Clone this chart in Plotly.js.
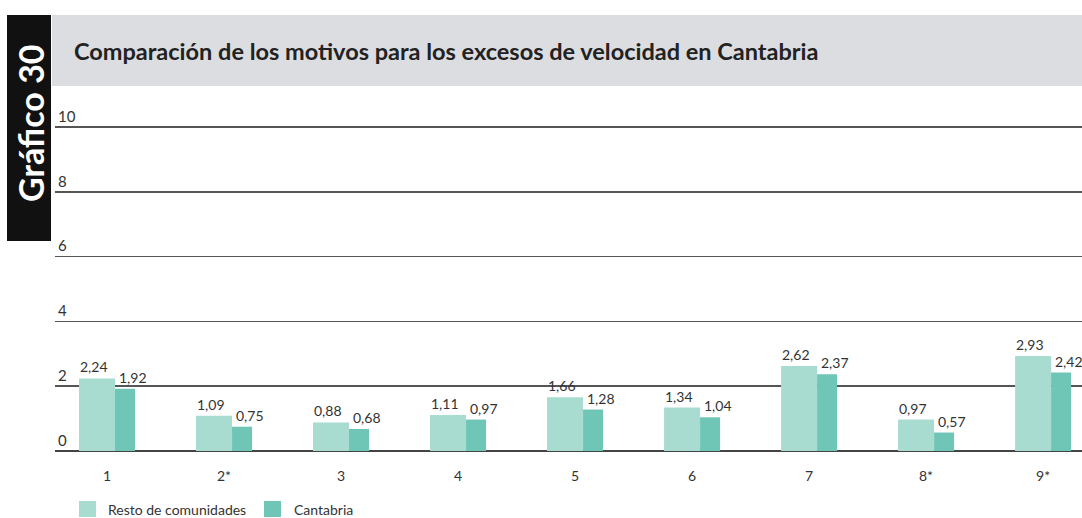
<!DOCTYPE html>
<html>
<head>
<meta charset="utf-8">
<script src="https://cdn.plot.ly/plotly-3.0.1.min.js"></script>
<style>
html,body{margin:0;padding:0;background:#fff;}
#chart{width:1082px;height:518px;}
</style>
</head>
<body>
<div id="chart"></div>
<script>
var categories = ["1", "2*", "3", "4", "5", "6", "7", "8*", "9*"];
var restoValues = [2.24, 1.09, 0.88, 1.11, 1.66, 1.34, 2.62, 0.97, 2.93];
var cantabriaValues = [1.92, 0.75, 0.68, 0.97, 1.28, 1.04, 2.37, 0.57, 2.42];
var seriesNames = ["Resto de comunidades", "Cantabria"];
var yTickVals = [0, 2, 4, 6, 8, 10];
var titleText = "Comparación de los motivos para los excesos de velocidad en Cantabria";
var badgeText = "Gráfico 30";

var colLight = "#a9dcd1";
var colDark = "#6fc5b6";
var FONT = 'Lato, "Open Sans", sans-serif';

// geometry helpers (pixels -> paper)
var L = 55, R = 1082, T = 100, B = 451;
var PXU = 32.4; // pixels per y unit
var yMax = (B - T) / PXU;
function px(x){ return (x - L) / (R - L); }
function py(y){ return (B - y) / (B - T); }

function fmt(v){ return v.toFixed(2).replace('.', ','); }

var traces = [
  {type:'bar', x:categories, y:restoValues, name:seriesNames[0], marker:{color:colLight},
   width:0.308, offset:-0.239, showlegend:false, hoverinfo:'y'},
  {type:'bar', x:categories, y:cantabriaValues, name:seriesNames[1], marker:{color:colDark},
   width:0.171, offset:0.069, showlegend:false, hoverinfo:'y'}
];

var annotations = [];
categories.forEach(function(c, i){
  annotations.push({x:i - 0.239, y:restoValues[i], xref:'x', yref:'y', text:fmt(restoValues[i]),
    showarrow:false, xanchor:'left', yanchor:'bottom', xshift:-1, yshift:1,
    font:{family:FONT, size:14, color:'#333'}});
  annotations.push({x:i + 0.094, y:cantabriaValues[i], xref:'x', yref:'y', text:fmt(cantabriaValues[i]),
    showarrow:false, xanchor:'left', yanchor:'bottom', xshift:-1, yshift:1,
    font:{family:FONT, size:14, color:'#333'}});
});

// title
annotations.push({x:px(72), y:py(51), xref:'paper', yref:'paper', text:'<b>' + titleText + '</b>',
  showarrow:false, xanchor:'left', yanchor:'middle', font:{family:FONT, size:23.5, color:'#222'}});
// badge
annotations.push({x:px(30), y:py(123), xref:'paper', yref:'paper', text:'<b>' + badgeText + '</b>',
  showarrow:false, xanchor:'center', yanchor:'middle', textangle:-90, font:{family:FONT, size:34, color:'#fff'}});
// legend texts
annotations.push({x:px(106), y:py(509), xref:'paper', yref:'paper', text:seriesNames[0],
  showarrow:false, xanchor:'left', yanchor:'middle', font:{family:FONT, size:14, color:'#333'}});
annotations.push({x:px(292), y:py(509), xref:'paper', yref:'paper', text:seriesNames[1],
  showarrow:false, xanchor:'left', yanchor:'middle', font:{family:FONT, size:14, color:'#333'}});

var shapes = [
  {type:'rect', xref:'paper', yref:'paper', x0:px(52), x1:px(1082), y0:py(15), y1:py(86),
   fillcolor:'#dcdde0', line:{width:0}, layer:'below'},
  {type:'rect', xref:'paper', yref:'paper', x0:px(7), x1:px(51), y0:py(15), y1:py(241),
   fillcolor:'#111', line:{width:0}, layer:'below'},
  {type:'rect', xref:'paper', yref:'paper', x0:px(79), x1:px(96), y0:py(501), y1:py(517),
   fillcolor:colLight, line:{width:0}},
  {type:'rect', xref:'paper', yref:'paper', x0:px(264), x1:px(281), y0:py(501), y1:py(517),
   fillcolor:colDark, line:{width:0}}
];

var layout = {
  width:1082, height:518,
  margin:{l:L, r:1082 - R, t:T, b:518 - B, pad:0},
  paper_bgcolor:'#fff', plot_bgcolor:'rgba(0,0,0,0)',
  barmode:'overlay',
  font:{family:FONT, size:14, color:'#333'},
  xaxis:{type:'category', range:[-0.444, 8.333], showgrid:false, zeroline:false, showline:false,
    ticks:'outside', ticklen:12, tickcolor:'rgba(0,0,0,0)',
    tickfont:{family:FONT, size:14, color:'#333'}, fixedrange:true},
  yaxis:{range:[0, yMax], tickvals:yTickVals, ticktext:yTickVals.map(String), showgrid:true,
    gridcolor:'#555', gridwidth:1.6, zeroline:true, zerolinecolor:'#444', zerolinewidth:2,
    showline:false, ticks:'', ticklabelposition:'inside top',
    tickfont:{family:FONT, size:15, color:'#333'}, fixedrange:true},
  showlegend:false,
  annotations:annotations,
  shapes:shapes
};

Plotly.newPlot('chart', traces, layout, {displayModeBar:false, staticPlot:true});
</script>
</body>
</html>
